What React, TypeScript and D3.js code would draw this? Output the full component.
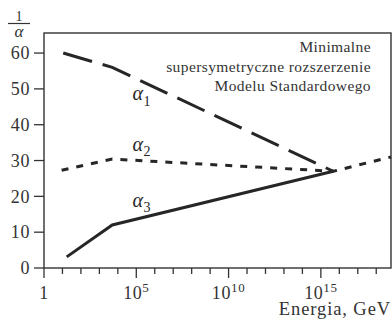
import React from "react";
import * as d3 from "d3";

// Energy in GeV, values of 1/alpha
const alpha1Energy = [11, 5.0e3, 4.7e15];
const alpha1Values = [60, 56, 27];
const alpha2Energy = [9, 5.0e3, 4.7e15, 6.3e18];
const alpha2Values = [27.3, 30.4, 27, 31];
const alpha3Energy = [17, 5.0e3, 4.7e15];
const alpha3Values = [3.1, 12, 27];

const yTicks = [0, 10, 20, 30, 40, 50, 60];
const xMajorExp = [0, 5, 10, 15];
const xMinorExp = d3.range(1, 19).filter((e) => e % 5 !== 0);

const insetLines = ["Minimalne", "supersymetryczne rozszerzenie", "Modelu Standardowego"];
const xTitle = "Energia, GeV";

const W = 392;
const H = 322;
const L = 44, R = 391, T = 33, B = 268;
const FONT = "Liberation Serif, DejaVu Serif, Times New Roman, serif";
const INK = "#262626";

export default function App() {
  const x = d3.scaleLog().domain([1, Math.pow(10, 18.8)]).range([L, R]);
  const y = d3.scaleLinear().domain([0, 65.6]).range([B, T]);
  const line = d3
    .line<[number, number]>()
    .x((d) => x(d[0]))
    .y((d) => y(d[1]));
  const zip = (a: number[], b: number[]) => a.map((v, i) => [v, b[i]] as [number, number]);

  const alphaLabel = (sub: string, lx: number, ly: number) => (
    <text x={lx} y={ly} style={{ fontFamily: FONT }} fill={INK}>
      <tspan fontStyle="italic" fontSize={20}>α</tspan>
      <tspan fontSize={14} dy={5.5} dx={0.5}>{sub}</tspan>
    </text>
  );

  const txt = { fontFamily: FONT } as React.CSSProperties;

  return (
    <svg
      width={W}
      height={H}
      style={{ position: "absolute", left: 0, top: 0, background: "#fff" }}
    >
      {/* cropped title remnant at the top */}
      <text x={R} y={-4} textAnchor="end" style={txt} fontSize={18.5} letterSpacing={0.9} fill={INK}>
        {xTitle}
      </text>

      {/* frame */}
      <rect x={L} y={T} width={R - L} height={B - T} fill="none" stroke="#333" strokeWidth={1.4} />

      {/* y ticks */}
      {yTicks.map((t) => (
        <g key={"y" + t}>
          <line x1={L - 10} x2={L} y1={y(t)} y2={y(t)} stroke="#333" strokeWidth={1.3} />
          <text
            x={L - 14}
            y={y(t)}
            dy="0.35em"
            textAnchor="end"
            style={txt}
            fontSize={18}
            letterSpacing={0.6}
            fill="#333"
          >
            {t}
          </text>
        </g>
      ))}

      {/* x ticks */}
      {xMinorExp.map((e) => (
        <line key={"m" + e} x1={x(Math.pow(10, e))} x2={x(Math.pow(10, e))} y1={B} y2={B + 6} stroke="#333" strokeWidth={1.3} />
      ))}
      {xMajorExp.map((e) => (
        <g key={"M" + e}>
          <line x1={x(Math.pow(10, e))} x2={x(Math.pow(10, e))} y1={B} y2={B + 10} stroke="#333" strokeWidth={1.3} />
          <text x={x(Math.pow(10, e))} y={299} textAnchor="middle" style={txt} fontSize={18} letterSpacing={0.6} fill="#333">
            {e === 0 ? (
              "1"
            ) : (
              <>
                <tspan>10</tspan>
                <tspan fontSize={13} dy={-7}>{e}</tspan>
              </>
            )}
          </text>
        </g>
      ))}

      {/* x title */}
      <text x={R} y={315} textAnchor="end" style={txt} fontSize={18.5} letterSpacing={0.9} fill="#333">
        {xTitle}
      </text>

      {/* y title 1/alpha */}
      <text x={19} y={20.5} textAnchor="middle" style={txt} fontSize={14} fill="#333">1</text>
      <line x1={8} x2={30} y1={23.5} y2={23.5} stroke="#333" strokeWidth={1.2} />
      <text x={19} y={36.5} textAnchor="middle" style={txt} fontStyle="italic" fontSize={17} fill="#333">α</text>

      {/* inset text */}
      {insetLines.map((s, i) => (
        <text
          key={s}
          x={371}
          y={52 + i * 19.7}
          textAnchor="end"
          style={txt}
          fontSize={15.5}
          letterSpacing={0.4}
          fill="#333"
        >
          {s}
        </text>
      ))}

      {/* series */}
      <path d={line(zip(alpha1Energy, alpha1Values)) || ""} fill="none" stroke={INK} strokeWidth={3} strokeDasharray="30,11" />
      <path d={line(zip(alpha2Energy, alpha2Values)) || ""} fill="none" stroke={INK} strokeWidth={3} strokeDasharray="7,8" />
      <path d={line(zip(alpha3Energy, alpha3Values)) || ""} fill="none" stroke={INK} strokeWidth={3} />

      {alphaLabel("1", 132.5, 100)}
      {alphaLabel("2", 132.5, 150.5)}
      {alphaLabel("3", 132.5, 206.5)}
    </svg>
  );
}
